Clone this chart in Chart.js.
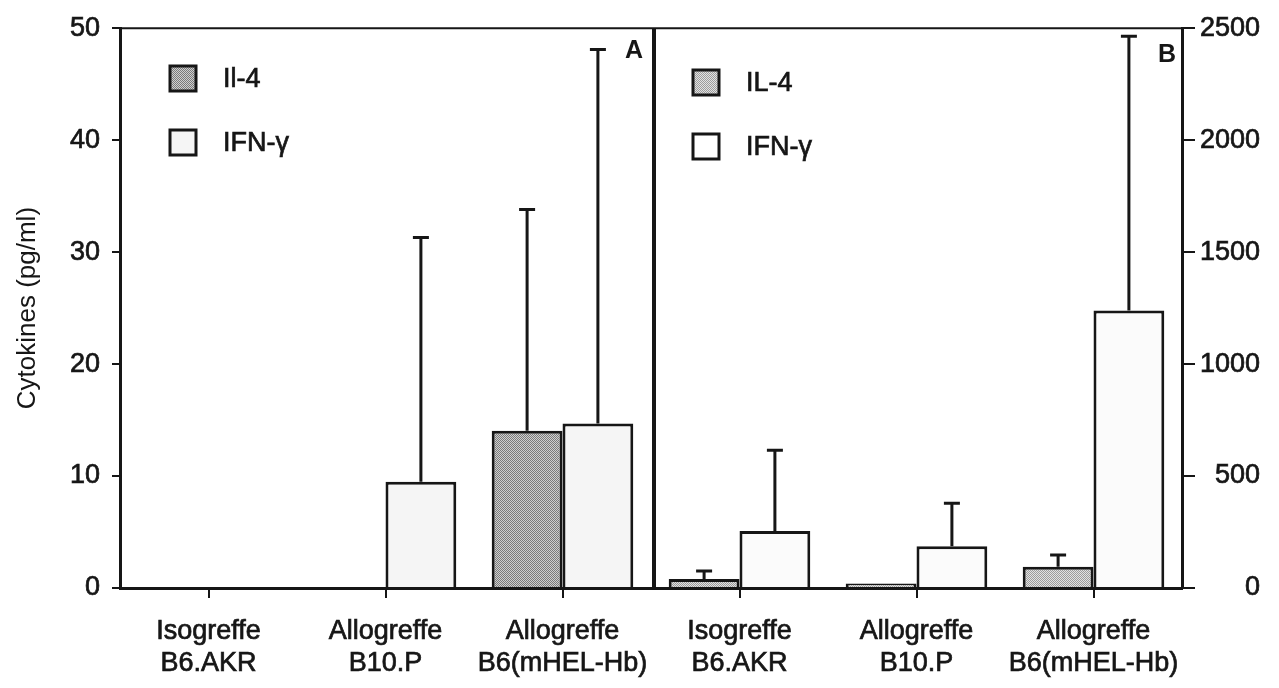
<!DOCTYPE html>
<html>
<head>
<meta charset="utf-8">
<script src="https://cdn.jsdelivr.net/npm/chart.js@4.4.1/dist/chart.umd.min.js"></script>
<style>
  html, body { margin: 0; padding: 0; background: #ffffff; }
  #wrap { width: 1279px; height: 688px; }
</style>
</head>
<body>
<div id="wrap"><canvas id="chart" width="1279" height="688"></canvas></div>
<script>
// Groups: panel A (three grafts, pg/ml, left axis) then panel B (same grafts, right axis)
const categories = [
  ['Isogreffe', 'B6.AKR'],
  ['Allogreffe', 'B10.P'],
  ['Allogreffe', 'B6(mHEL-Hb)'],
  ['Isogreffe', 'B6.AKR'],
  ['Allogreffe', 'B10.P'],
  ['Allogreffe', 'B6(mHEL-Hb)']
];

// Panel A means (left scale 0-50)
const il4A = [0, 0, 14.05, null, null, null];
const ifnA = [0, 9.5, 14.7, null, null, null];
// Panel B means (right scale 0-2500)
const il4B = [null, null, null, 40, 20, 95];
const ifnB = [null, null, null, 255, 187, 1239];

// Upper ends of the error bars (mean + SD)
const il4AUpper = [null, null, 33.8, null, null, null];
const ifnAUpper = [null, 31.3, 48.1, null, null, null];
const il4BUpper = [null, null, null, 76, null, 147];
const ifnBUpper = [null, null, null, 615, 379, 2464];

const ticksA = [0, 10, 20, 30, 40, 50];
const ticksB = [0, 500, 1000, 1500, 2000, 2500];

const seriesLabelsA = ['Il-4', 'IFN-\u03b3'];
const seriesLabelsB = ['IL-4', 'IFN-\u03b3'];
const panelLabels = ['A', 'B'];
const axisTitle = 'Cytokines (pg/ml)';

const FONT = '"Liberation Sans", Arial, Helvetica, sans-serif';
const INK = '#161616';

const canvas = document.getElementById('chart');
const ctx = canvas.getContext('2d');

// Fine dotted screen used for the IL-4 bars
function stipple(dark, light) {
  const tile = document.createElement('canvas');
  tile.width = 2; tile.height = 2;
  const g = tile.getContext('2d');
  g.fillStyle = light; g.fillRect(0, 0, 2, 2);
  g.fillStyle = dark; g.fillRect(0, 0, 1, 1); g.fillRect(1, 1, 1, 1);
  return ctx.createPattern(tile, 'repeat');
}
const fillIl4A = stipple('#7a7a7a', '#cfcfcf');
const fillIl4B = stipple('#9c9c9c', '#e2e2e2');
const fillIfnA = '#f5f5f5';
const fillIfnB = '#fbfbfb';

// Error bars: vertical stroke from bar top to the upper value, with a cap
const errorBars = {
  id: 'errorBars',
  afterDatasetsDraw(chart) {
    const c = chart.ctx;
    c.save();
    c.strokeStyle = INK;
    c.lineWidth = 3;
    chart.data.datasets.forEach((ds, i) => {
      if (!ds.upper) return;
      const meta = chart.getDatasetMeta(i);
      const yScale = chart.scales[ds.yAxisID];
      meta.data.forEach((bar, j) => {
        const up = ds.upper[j];
        if (up == null || ds.data[j] == null) return;
        const yTop = yScale.getPixelForValue(up);
        const yBar = yScale.getPixelForValue(ds.data[j]);
        c.beginPath();
        c.moveTo(bar.x, yBar);
        c.lineTo(bar.x, yTop);
        c.moveTo(bar.x - 8, yTop);
        c.lineTo(bar.x + 8, yTop);
        c.stroke();
      });
    });
    c.restore();
  }
};

// Frame: top rule and the divider between the two panels, panel letters and legends
const frame = {
  id: 'frame',
  afterDraw(chart) {
    const c = chart.ctx;
    const a = chart.chartArea;
    const x = chart.scales.x;
    const mid = (x.getPixelForValue(2) + x.getPixelForValue(3)) / 2 + 3;
    c.save();
    c.strokeStyle = INK;
    c.lineWidth = 2;
    c.beginPath();
    c.moveTo(a.left, a.top);
    c.lineTo(a.right, a.top);
    c.stroke();
    c.lineWidth = 4;
    c.beginPath();
    c.moveTo(mid, a.top);
    c.lineTo(mid, a.bottom);
    c.stroke();

    c.fillStyle = INK;
    c.font = 'bold 25px ' + FONT;
    c.textAlign = 'center';
    c.textBaseline = 'alphabetic';
    c.fillText(panelLabels[0], 634, 58);
    c.fillText(panelLabels[1], 1167, 62);

    const legends = [
      { bx: 170, by: 66, label: seriesLabelsA[0], fill: fillIl4A },
      { bx: 170, by: 130, label: seriesLabelsA[1], fill: fillIfnA },
      { bx: 693, by: 70, label: seriesLabelsB[0], fill: fillIl4B },
      { bx: 693, by: 134, label: seriesLabelsB[1], fill: '#ffffff' }
    ];
    c.font = '27px ' + FONT;
    c.textAlign = 'left';
    c.textBaseline = 'middle';
    legends.forEach(l => {
      c.fillStyle = l.fill;
      c.fillRect(l.bx, l.by, 26, 25);
      c.lineWidth = 3;
      c.strokeStyle = INK;
      c.strokeRect(l.bx, l.by, 26, 25);
      c.fillStyle = INK;
      c.fillText(l.label, l.bx + 53, l.by + 14);
      c.lineWidth = 0.7;
      c.strokeText(l.label, l.bx + 53, l.by + 14);
    });
    c.restore();
  }
};

const barCommon = {
  borderColor: INK,
  borderWidth: 3,
  borderSkipped: 'start',
  categoryPercentage: 0.8,
  barPercentage: 1.0,
  skipNull: true
};

const tickFont = { size: 27, family: FONT };

new Chart(ctx, {
  type: 'bar',
  data: {
    labels: categories,
    datasets: [
      Object.assign({ label: seriesLabelsA[0], data: il4A, upper: il4AUpper, yAxisID: 'yA', backgroundColor: fillIl4A }, barCommon),
      Object.assign({ label: seriesLabelsA[1], data: ifnA, upper: ifnAUpper, yAxisID: 'yA', backgroundColor: fillIfnA }, barCommon),
      Object.assign({ label: seriesLabelsB[0], data: il4B, upper: il4BUpper, yAxisID: 'yB', backgroundColor: fillIl4B }, barCommon),
      Object.assign({ label: seriesLabelsB[1], data: ifnB, upper: ifnBUpper, yAxisID: 'yB', backgroundColor: fillIfnB }, barCommon)
    ]
  },
  options: {
    responsive: false,
    animation: false,
    devicePixelRatio: 1,
    layout: { padding: { top: 26, right: 19, left: 0, bottom: 0 } },
    plugins: { legend: { display: false }, tooltip: { enabled: false } },
    scales: {
      x: {
        type: 'category',
        offset: true,
        grid: { offset: false, drawOnChartArea: false, drawTicks: true, tickLength: 10, color: INK, lineWidth: 2 },
        border: { color: INK, width: 3 },
        ticks: { color: INK, font: tickFont, padding: 17, maxRotation: 0, autoSkip: false,
                 textStrokeColor: INK, textStrokeWidth: 0.7 },
        afterFit(s) { s.height = 100; }
      },
      yA: {
        position: 'left',
        min: ticksA[0],
        max: ticksA[ticksA.length - 1],
        afterBuildTicks(s) { s.ticks = ticksA.map(v => ({ value: v })); },
        grid: { drawOnChartArea: false, drawTicks: true, tickLength: 8, color: INK, lineWidth: 2 },
        border: { color: INK, width: 3 },
        ticks: { color: INK, font: tickFont, padding: 12, callback: v => String(v),
                 textStrokeColor: INK, textStrokeWidth: 0.7 },
        title: { display: true, text: axisTitle, color: INK, font: { size: 26, family: FONT }, padding: { top: 12, bottom: 0 } },
        afterFit(s) { s.width = 120; }
      },
      yB: {
        position: 'right',
        min: ticksB[0],
        max: ticksB[ticksB.length - 1],
        afterBuildTicks(s) { s.ticks = ticksB.map(v => ({ value: v })); },
        grid: { drawOnChartArea: false, drawTicks: true, tickLength: 13, color: INK, lineWidth: 2 },
        border: { color: INK, width: 3 },
        ticks: { color: INK, font: tickFont, padding: 6, crossAlign: 'far', callback: v => String(v),
                 textStrokeColor: INK, textStrokeWidth: 0.7 },
        afterFit(s) { s.width = 78; }
      }
    }
  },
  plugins: [errorBars, frame]
});
</script>
</body>
</html>
